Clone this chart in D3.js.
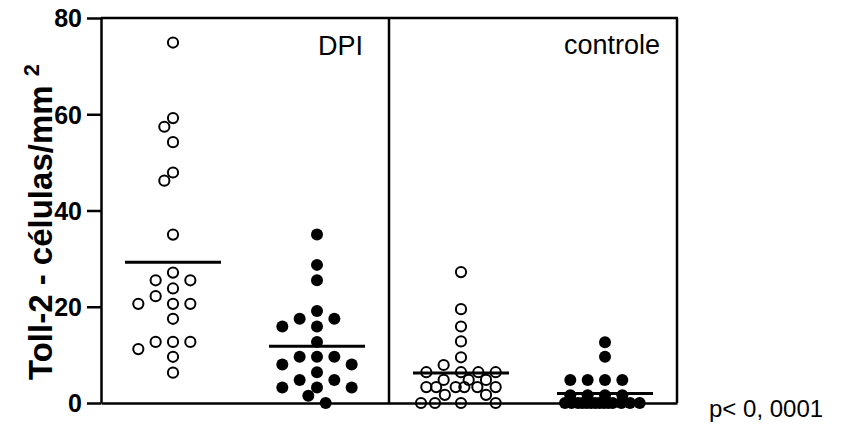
<!DOCTYPE html>
<html><head><meta charset="utf-8">
<script src="https://cdn.jsdelivr.net/npm/d3@7"></script>
<style>body{margin:0;background:#fff}svg{display:block}</style>
</head><body>
<svg id="c" width="841" height="436"></svg>
<script>
// ---------- data ----------
const groups = ["DPI-open", "DPI-filled", "controle-open", "controle-filled"];
const panelLabels = ["DPI", "controle"];
const dpiOpen = [74.9, 59.2, 57.4, 54.2, 47.9, 46.2, 35.0, 27.1, 25.5, 25.5, 23.8, 22.2,
                 20.6, 20.6, 20.6, 17.5, 12.7, 12.7, 12.7, 11.2, 9.6, 6.3];
const dpiFilled = [35.0, 28.7, 25.5, 19.1, 17.5, 17.5, 15.9, 15.9, 12.7, 9.6, 9.6, 9.6,
                   8.0, 8.0, 6.4, 4.8, 4.8, 3.2, 3.2, 3.2, 1.5, 0];
const controleOpen = [27.2, 19.5, 15.9, 12.8, 9.5, 7.9, 6.4, 6.4, 6.4, 6.4, 4.8, 4.8, 4.8,
                      3.3, 3.3, 3.3, 3.3, 3.3, 3.3, 1.7, 1.7, 0, 0, 0, 0];
const controleFilled = [12.6, 9.6, 4.8, 4.8, 4.8, 4.8, 1.6, 1.6, 1.6, 1.6,
                        0, 0, 0, 0, 0, 0, 0, 0, 0, 0, 0, 0, 0, 0];
const seriesValues = [dpiOpen, dpiFilled, controleOpen, controleFilled];
const filled = [false, true, false, true];
const yTicks = [0, 20, 40, 60, 80];
const yTitle = "Toll-2 - células/mm";
const yTitleSup = "2";
const pText = "p< 0, 0001";

// ---------- layout ----------
const svg = d3.select("#c");
const mLeft = 101, mRight = 677, mTop = 18, mBottom = 403;
const x = d3.scaleBand().domain(groups).range([mLeft, mRight]).padding(0);
const y = d3.scaleLinear().domain([0, 80]).range([mBottom, mTop]);
const font = "'Liberation Sans', Arial, Helvetica, sans-serif";

// beeswarm layout (greedy, descending values)
function swarm(values, cx, maxOff) {
  const s = 8.67, minD = 11.6;
  const order = values.map((v, i) => i).sort((a, b) => values[b] - values[a] || a - b);
  const placed = [];
  const out = new Array(values.length);
  const cands = [0];
  for (let k = 1; k * s <= maxOff; k++) cands.push(-k * s, k * s);
  for (const i of order) {
    const yy = y(values[i]);
    let best = null;
    for (const c of cands) {
      if (placed.every(p => Math.hypot(p.x - c, p.y - yy) >= minD)) { best = c; break; }
    }
    if (best === null) {
      let bd = -1;
      for (let c = -maxOff; c <= maxOff + 0.01; c += s / 4) {
        const md = d3.min(placed, p => Math.hypot(p.x - c, p.y - yy));
        if (md > bd + 0.01) { bd = md; best = c; }
      }
    }
    placed.push({ x: best, y: yy });
    out[i] = { x: cx + best, y: yy, v: values[i] };
  }
  return out;
}

// points
seriesValues.forEach((vals, gi) => {
  const cx = x(groups[gi]) + x.bandwidth() / 2;
  const pts = swarm(vals, cx, 40);
  const g = svg.append("g");
  g.selectAll("circle").data(pts).join("circle")
    .attr("cx", d => d.x).attr("cy", d => d.y)
    .attr("r", filled[gi] ? 6 : 5.1)
    .attr("fill", filled[gi] ? "#000" : "none")
    .attr("stroke", "#000")
    .attr("stroke-width", filled[gi] ? 0 : 2);
  const m = d3.mean(vals);
  svg.append("line")
    .attr("x1", cx - 48).attr("x2", cx + 48)
    .attr("y1", y(m)).attr("y2", y(m))
    .attr("stroke", "#000").attr("stroke-width", 3);
});

// axes
const ya = svg.append("g").attr("transform", `translate(${mLeft},0)`)
  .call(d3.axisLeft(y).tickValues(yTicks).tickSize(14).tickSizeOuter(0).tickPadding(5));
ya.select(".domain").attr("stroke-width", 2.5);
ya.selectAll(".tick line").attr("stroke-width", 2.5);
ya.selectAll(".tick text").attr("font-family", font).attr("font-weight", "bold")
  .attr("font-size", 25).attr("fill", "#000").attr("dy", "0.35em");

const xa = svg.append("g").attr("transform", `translate(0,${mBottom})`)
  .call(d3.axisBottom(x).tickValues([]).tickSizeOuter(0));
xa.select(".domain").attr("stroke-width", 2.5);

// frame: top, right, divider
const frame = svg.append("g").attr("stroke", "#000").attr("stroke-width", 2.5);
frame.append("line").attr("x1", mLeft).attr("x2", mRight + 1).attr("y1", y(80)).attr("y2", y(80));
frame.append("line").attr("x1", mRight).attr("x2", mRight).attr("y1", y(80)).attr("y2", y(0));
const divX = x(groups[2]);
frame.append("line").attr("x1", divX).attr("x2", divX).attr("y1", y(80)).attr("y2", y(0));

// panel labels
svg.append("text").attr("x", divX - 26).attr("y", 55).attr("text-anchor", "end")
  .attr("font-family", font).attr("font-size", 27).text(panelLabels[0]);
svg.append("text").attr("x", mRight - 17).attr("y", 54).attr("text-anchor", "end")
  .attr("font-family", font).attr("font-size", 27).text(panelLabels[1]);

// p value
svg.append("text").attr("x", 709).attr("y", 417)
  .attr("font-family", font).attr("font-size", 24).text(pText);

// y title
const t = svg.append("text").attr("transform", "translate(52,222) rotate(-90)")
  .attr("text-anchor", "middle").attr("font-family", font).attr("font-weight", "bold")
  .attr("font-size", 33);
t.append("tspan").text(yTitle + " ");
t.append("tspan").attr("font-size", 22).attr("dy", -13).text(yTitleSup);
</script>
</body></html>
